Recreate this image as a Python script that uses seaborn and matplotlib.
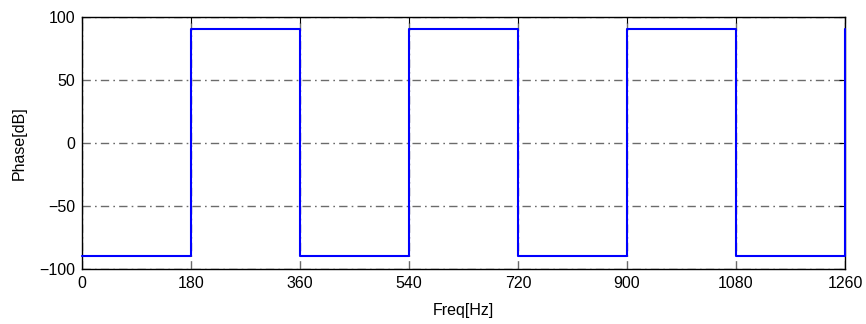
import matplotlib
matplotlib.use("Agg")
import matplotlib.pyplot as plt
import pandas as pd
import seaborn as sns

# Square-wave phase response
freq_hz = [0, 180, 180, 360, 360, 540, 540, 720, 720, 900, 900, 1080, 1080, 1260, 1260]
phase_db = [-90, -90, 90, 90, -90, -90, 90, 90, -90, -90, 90, 90, -90, -90, 90]
x_ticks = [0, 180, 360, 540, 720, 900, 1080, 1260]
y_ticks = [-100, -50, 0, 50, 100]

sns.set_style("white")
plt.rcParams["font.family"] = ["Liberation Sans", "DejaVu Sans"]
plt.rcParams["axes.unicode_minus"] = True
plt.rcParams["text.color"] = "black"
plt.rcParams["axes.labelcolor"] = "black"

df = pd.DataFrame({"Freq": freq_hz, "Phase": phase_db})

fig = plt.figure(figsize=(8.66, 3.24), dpi=100)
ax = fig.add_axes([0.0947, 0.1698, 0.8811, 0.7792])

sns.lineplot(
    data=df, x="Freq", y="Phase", ax=ax, sort=False, estimator=None,
    color=(0, 0, 1), linewidth=1.5,
)
# keep the trace above the frame so the edge step at 1260 shows
for ln in ax.lines:
    ln.set_zorder(5)
    ln.set_clip_on(False)

ax.set_xlim(0, 1260)
ax.set_ylim(-100, 100)
ax.set_xticks(x_ticks)
ax.set_yticks(y_ticks)
ax.set_xticklabels([str(t) for t in x_ticks])
ax.set_yticklabels([str(t).replace("-", "\u2212") for t in y_ticks])

ax.grid(True, color="0.42", linestyle=(0, (6, 3, 1.2, 3)), linewidth=1.0)
ax.set_axisbelow(True)
ax.tick_params(direction="in", top=True, right=True, length=4, width=0.8,
               labelsize=11.5, colors="black", pad=5)
for s in ax.spines.values():
    s.set_color("black")
    s.set_linewidth(1.0)

ax.set_xlabel("Freq[Hz]", fontsize=11.5)
ax.set_ylabel("Phase[dB]", fontsize=11.5)
ax.xaxis.set_label_coords(0.5, -0.135)
ax.yaxis.set_label_coords(-0.072, 0.5)

fig.savefig("out.png", dpi=100)
